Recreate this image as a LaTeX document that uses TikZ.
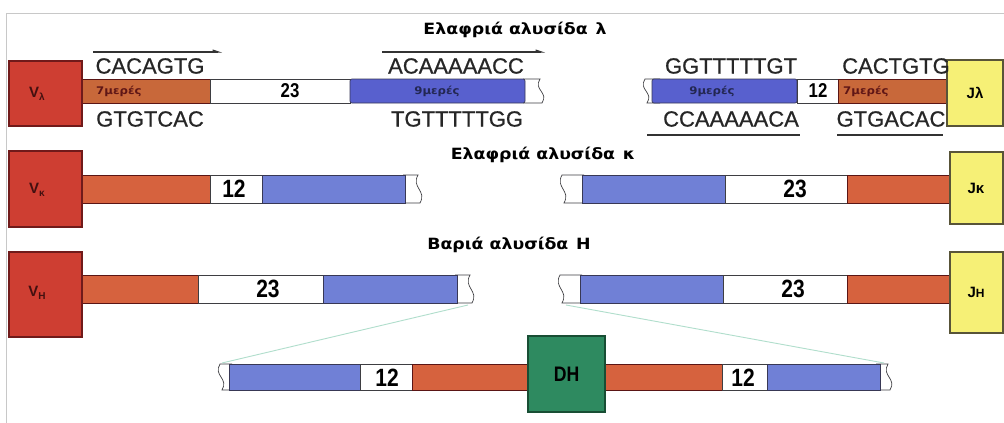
\documentclass[tikz,border=0pt]{standalone}
\usepackage{fontspec}
\setmainfont{Liberation Sans}
\newfontfamily\titlefont[FakeStretch=1.12]{DejaVu Sans}
\newfontfamily\condfont[FakeStretch=0.84]{Liberation Sans}
\newfontfamily\seqfont[FakeBold=0.7]{Liberation Sans}
\usetikzlibrary{fit,arrows.meta}

\definecolor{vred}{RGB}{206,62,50}
\definecolor{vedge}{RGB}{112,26,26}
\definecolor{segorange}{RGB}{214,98,62}
\definecolor{lamorange}{RGB}{200,104,58}
\definecolor{segblue}{RGB}{112,128,214}
\definecolor{lamblue}{RGB}{88,96,206}
\definecolor{jyellow}{RGB}{246,240,118}
\definecolor{jedge}{RGB}{88,84,56}
\definecolor{dgreen}{RGB}{46,138,96}
\definecolor{dedge}{RGB}{24,78,52}
\definecolor{segline}{RGB}{62,62,66}
\definecolor{guide}{RGB}{176,222,204}
\definecolor{framegray}{RGB}{200,200,200}

% a coloured or white stretch of a gene segment, spanning two corners
\newcommand\segbox[6]{\node[#6, fit={(#2,#4) (#3,#5)}] (#1) {};}
% white torn end closing a stretch on the right / on the left
\newcommand\tornright[4]{%
  \filldraw[fill=white, draw=segline, line width=0.7pt]
    (#1,#3) -- (#2,#3) .. controls (#2-7,#3+0.45*#4-0.45*#3) and (#2+9,#3+0.55*#4-0.55*#3) .. (#2+2,#4) -- (#1,#4);}
\newcommand\tornleft[4]{%
  \filldraw[fill=white, draw=segline, line width=0.7pt]
    (#2,#3) -- (#1,#3) .. controls (#1-7,#3+0.45*#4-0.45*#3) and (#1+9,#3+0.55*#4-0.55*#3) .. (#1+2,#4) -- (#2,#4);}

\begin{document}
\begin{tikzpicture}[x=1pt,y=-1pt,
  seg/.style={inner sep=0pt, outer sep=0pt, draw=segline, line width=0.7pt},
  orangeseg/.style={seg, fill=segorange, draw=vedge!80!black},
  lorangeseg/.style={seg, fill=lamorange, draw=vedge!80!black},
  blueseg/.style={seg, fill=segblue, draw=segline!90!blue},
  lblueseg/.style={seg, fill=lamblue, draw=segline!90!blue, rounded corners=2pt},
  whiteseg/.style={seg, fill=white},
  vbox/.style={inner sep=0pt, outer sep=0pt, draw=vedge, fill=vred, line width=2pt},
  jbox/.style={inner sep=0pt, outer sep=0pt, draw=jedge, fill=jyellow, line width=1.4pt},
  dbox/.style={inner sep=0pt, outer sep=0pt, draw=dedge, fill=dgreen, line width=1.4pt},
  seq/.style={inner sep=0pt, font=\seqfont\fontsize{22}{22}\selectfont, text=black!85},
  numlam/.style={inner sep=0pt, font=\condfont\bfseries\fontsize{20}{20}\selectfont},
  num/.style={inner sep=0pt, font=\condfont\bfseries\fontsize{25}{25}\selectfont},
  tiny/.style={inner sep=0pt, font=\titlefont\bfseries\fontsize{10.5}{10.5}\selectfont},
  title/.style={inner sep=0pt, font=\titlefont\bfseries\fontsize{15.5}{15.5}\selectfont},
  vlabel/.style={inner sep=0pt, font=\bfseries\fontsize{15}{15}\selectfont, text=vedge!60!black},
  jlabel/.style={inner sep=0pt, font=\bfseries\fontsize{15}{15}\selectfont},
  strand/.style={line width=1.1pt, draw=black!80},
  guideline/.style={line width=0.9pt, draw=guide}
]
\useasboundingbox (0,0) rectangle (1004,423);
\fill[white] (0,0) rectangle (1004,423);
\draw[framegray, line width=0.8pt] (1004,13) -- (6,13) -- (6,423);

% ---------------- light chain lambda ----------------
\node[title] (tlam) at (515,30) {Ελαφριά αλυσίδα\hspace{0.5em}λ};

\segbox{lamO1}{82}{210}{79}{103}{lorangeseg}
\segbox{lamW1}{210}{350}{79}{103}{whiteseg}
\tornright{523}{540}{79}{103}
\segbox{lamB1}{350}{525}{79}{103}{lblueseg}
\node[vbox, fit={(9,61) (82,126)}] (vlam) {};
\node[vlabel] (vlamt) at (37,94) {V\raisebox{-0.35ex}{\fontsize{10}{10}\selectfont λ}};

\tornleft{645}{660}{79}{103}
\segbox{lamB2}{652}{797}{79}{103}{lblueseg}
\segbox{lamW2}{797}{838}{79}{103}{whiteseg}
\segbox{lamO2}{838}{947}{79}{103}{lorangeseg}
\node[jbox, fit={(947,60) (1003,126)}] (jlam) {};
\node[jlabel] (jlamt) at (975,93) {Jλ};

\node[tiny, text=vedge!85!black, anchor=west] (h7a) at (96,91) {7μερές};
\node[numlam] (n23a) at (290,91) {23};
\node[tiny, text=lamblue!40!black] (h9a) at (437,91) {9μερές};
\node[tiny, text=lamblue!40!black] (h9b) at (712,91) {9μερές};
\node[numlam] (n12a) at (818,91) {12};
\node[tiny, text=vedge!85!black, anchor=west] (h7b) at (843,91) {7μερές};

\node[seq] (s1) at (150,66) {CACAGTG};
\node[seq] (s2) at (150,119) {GTGTCAC};
\node[seq] (s3) at (456,66) {ACAAAAACC};
\node[seq] (s4) at (457,119) {TGTTTTTGG};
\node[seq] (s5) at (731,66) {GGTTTTTGT};
\node[seq] (s6) at (731,119) {CCAAAAACA};
\node[seq] (s7) at (896,66) {CACTGTG};
\node[seq] (s8) at (891,119) {GTGACAC};

\coordinate (o1a) at (93,52);  \coordinate (o1b) at (222,52);
\coordinate (o2a) at (382,52); \coordinate (o2b) at (545,52);
\coordinate (u1a) at (647,135); \coordinate (u1b) at (800,135);
\coordinate (u2a) at (837,135); \coordinate (u2b) at (943,135);
\draw[strand, -{Straight Barb[left,length=6pt,width=4pt]}] (o1a) -- (o1b);
\draw[strand, -{Straight Barb[left,length=6pt,width=4pt]}] (o2a) -- (o2b);
\draw[strand] (u1a) -- (u1b);
\draw[strand] (u2a) -- (u2b);

% ---------------- light chain kappa ----------------
\node[title] (tkap) at (543,155) {Ελαφριά αλυσίδα\hspace{0.5em}κ};

\segbox{kapO1}{82}{210}{175}{203}{orangeseg}
\segbox{kapW1}{210}{262}{175}{203}{whiteseg}
\tornright{403}{418}{175}{203}
\segbox{kapB1}{262}{405}{175}{203}{blueseg}
\node[vbox, fit={(9,151) (82,227)}] (vkap) {};
\node[vlabel] (vkapt) at (37,190) {V\raisebox{-0.35ex}{\fontsize{10}{10}\selectfont κ}};
\node[num] (n12b) at (234,189) {12};

\tornleft{562}{584}{175}{203}
\segbox{kapB2}{582}{725}{175}{203}{blueseg}
\segbox{kapW2}{725}{847}{175}{203}{whiteseg}
\segbox{kapO2}{847}{950}{175}{203}{orangeseg}
\node[jbox, fit={(950,152) (1003,224)}] (jkap) {};
\node[jlabel] (jkapt) at (976,188) {Jκ};
\node[num] (n23b) at (795,189) {23};

% ---------------- heavy chain ----------------
\node[title] (theavy) at (509,245) {Βαριά αλυσίδα\hspace{0.5em}Η};

\segbox{hO1}{82}{198}{275}{303}{orangeseg}
\segbox{hW1}{198}{323}{275}{303}{whiteseg}
\tornright{455}{470}{275}{303}
\segbox{hB1}{323}{457}{275}{303}{blueseg}
\node[vbox, fit={(9,252) (82,337)}] (vh) {};
\node[vlabel] (vht) at (37,293) {V\raisebox{-0.35ex}{\fontsize{10}{10}\selectfont H}};
\node[num] (n23c) at (268,289) {23};

\tornleft{560}{582}{275}{303}
\segbox{hB2}{580}{723}{275}{303}{blueseg}
\segbox{hW2}{723}{847}{275}{303}{whiteseg}
\segbox{hO2}{847}{950}{275}{303}{orangeseg}
\node[jbox, fit={(950,252) (1003,333)}] (jh) {};
\node[jlabel] (jht) at (976,292) {J\fontsize{12}{12}\selectfont H};
\node[num] (n23d) at (793,289) {23};

% ---------------- D segment, enlarged ----------------
\tornleft{220}{232}{364}{390}
\segbox{dB1}{229}{360}{364}{390}{blueseg}
\segbox{dW1}{360}{412}{364}{390}{whiteseg}
\segbox{dO1}{412}{530}{364}{390}{orangeseg}
\segbox{dO2}{603}{722}{364}{390}{orangeseg}
\segbox{dW2}{722}{767}{364}{390}{whiteseg}
\tornright{876}{888}{364}{390}
\segbox{dB2}{767}{880}{364}{390}{blueseg}
\node[dbox, fit={(528,336) (605,412)}] (dh) {};
\node[inner sep=0pt, font=\condfont\bfseries\fontsize{21}{21}\selectfont, text=black] (dht) at (dh) {DH};
\node[num] (n12c) at (387,378) {12};
\node[num] (n12d) at (743,378) {12};

% guide lines from the heavy chain gap to the enlarged D segment
\coordinate (gl1) at (468,305);
\coordinate (gl2) at (222,363);
\coordinate (gr1) at (566,305);
\coordinate (gr2) at (884,363);
\draw[guideline] (gl1) -- (gl2);
\draw[guideline] (gr1) -- (gr2);
\end{tikzpicture}
\end{document}
